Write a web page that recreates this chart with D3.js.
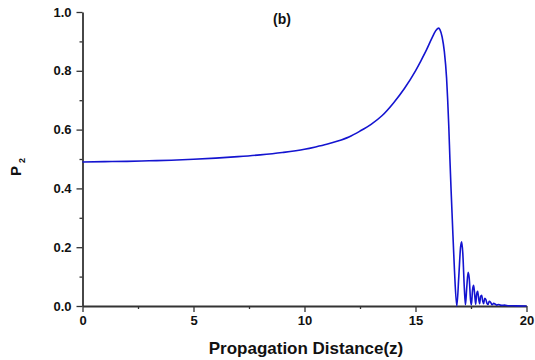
<!DOCTYPE html>
<html>
<head>
<meta charset="utf-8">
<script src="https://cdn.jsdelivr.net/npm/d3@7"></script>
<style>
  html, body { margin: 0; padding: 0; background: #fff; }
  svg { display: block; font-family: "Liberation Sans", Arial, sans-serif; }
</style>
</head>
<body>
<svg id="chart" width="535" height="360"></svg>
<script>
// Propagation distance z
const zValues = [
  0, 1, 2, 3, 4, 5, 6, 7, 8, 9, 10, 10.5, 11, 11.5, 12, 12.5, 13, 13.5, 14, 14.5,
  15, 15.25, 15.5, 15.75, 15.9, 16.0, 16.05, 16.1, 16.2, 16.3, 16.4, 16.45, 16.5, 16.55, 16.6, 16.66, 16.75, 16.86,
  16.95, 17.03, 17.08, 17.13, 17.2, 17.25, 17.31, 17.37, 17.42, 17.48, 17.52,
  17.57, 17.62, 17.67, 17.71, 17.75, 17.8, 17.85, 17.89, 17.93, 17.98, 18.03, 18.07,
  18.12, 18.17, 18.22, 18.27, 18.32, 18.38, 18.45, 18.52, 18.58, 18.66, 18.74, 18.82,
  18.92, 19.0, 19.2, 19.5, 20
];
// Probability P2 at each z
const p2Values = [
  0.490, 0.491, 0.492, 0.494, 0.496, 0.499, 0.503, 0.508, 0.514, 0.522, 0.533, 0.541, 0.550, 0.561, 0.575, 0.595, 0.618, 0.648, 0.690, 0.740,
  0.800, 0.835, 0.872, 0.913, 0.935, 0.944, 0.945, 0.940, 0.915, 0.865, 0.775, 0.700, 0.610, 0.500, 0.400, 0.290, 0.130, 0.0,
  0.10, 0.20, 0.218, 0.18, 0.06, 0.004, 0.065, 0.115, 0.095, 0.02, 0.004,
  0.055, 0.07, 0.035, 0.006, 0.038, 0.05, 0.022, 0.008, 0.032, 0.036, 0.016, 0.008,
  0.026, 0.022, 0.009, 0.005, 0.016, 0.013, 0.004, 0.009, 0.007, 0.003, 0.005, 0.003,
  0.002, 0.003, 0.001, 0.0005, 0
];
const xTicks = [0, 5, 10, 15, 20];
const xMinorTicks = [2.5, 7.5, 12.5, 17.5];
const yTicks = [0.0, 0.2, 0.4, 0.6, 0.8, 1.0];
const yMinorTicks = [0.1, 0.3, 0.5, 0.7, 0.9];

const svg = d3.select("#chart");
const margin = { left: 82.5, right: 8.5, top: 12, bottom: 54 };
const W = 535, H = 360;

const x = d3.scaleLinear().domain([0, 20]).range([margin.left, W - margin.right]);
const y = d3.scaleLinear().domain([0, 1]).range([H - margin.bottom, margin.top]);

const axisColor = "#333";

// minor ticks
const xMinor = d3.axisBottom(x).tickValues(xMinorTicks).tickSize(3).tickFormat("");
const yMinor = d3.axisLeft(y).tickValues(yMinorTicks).tickSize(3).tickFormat("");
svg.append("g").attr("transform", `translate(0,${y(0)})`).call(xMinor)
  .call(g => g.select(".domain").remove())
  .selectAll("line").attr("stroke", axisColor).attr("stroke-width", 1.3);
svg.append("g").attr("transform", `translate(${x(0)},0)`).call(yMinor)
  .call(g => g.select(".domain").remove())
  .selectAll("line").attr("stroke", axisColor).attr("stroke-width", 1.3);

// major axes
const xAxis = d3.axisBottom(x).tickValues(xTicks).tickSize(6).tickSizeOuter(0).tickPadding(4)
  .tickFormat(d3.format("d"));
const yAxis = d3.axisLeft(y).tickValues(yTicks).tickSize(6).tickSizeOuter(0).tickPadding(5)
  .tickFormat(d3.format(".1f"));

const gx = svg.append("g").attr("transform", `translate(0,${y(0)})`).call(xAxis);
const gy = svg.append("g").attr("transform", `translate(${x(0)},0)`).call(yAxis);
[gx, gy].forEach(g => {
  g.select(".domain").attr("stroke", axisColor).attr("stroke-width", 1.8);
  g.selectAll(".tick line").attr("stroke", axisColor).attr("stroke-width", 1.3);
  g.selectAll(".tick text").attr("fill", "#111").attr("font-size", 13)
    .attr("font-weight", "bold").attr("font-family", "Liberation Sans, Arial, sans-serif");
});

// curve
const data = zValues.map((z, i) => ({ z, p: p2Values[i] }));
const line = d3.line().x(d => x(d.z)).y(d => y(d.p)).curve(d3.curveMonotoneX);
svg.append("path").datum(data)
  .attr("d", line)
  .attr("fill", "none")
  .attr("stroke", "#1414d0")
  .attr("stroke-width", 1.6)
  .attr("stroke-linejoin", "round");

// panel label
svg.append("text").attr("x", 282).attr("y", 24).attr("text-anchor", "middle")
  .attr("font-size", 14).attr("font-weight", "bold").attr("fill", "#111").text("(b)");

// axis titles
svg.append("text").attr("x", 306).attr("y", 354).attr("text-anchor", "middle")
  .attr("font-size", 17).attr("font-weight", "bold").attr("fill", "#111")
  .text("Propagation Distance(z)");

const yt = svg.append("text")
  .attr("transform", "translate(21,167) rotate(-90)")
  .attr("text-anchor", "middle")
  .attr("font-size", 15).attr("font-weight", "bold").attr("fill", "#111");
yt.append("tspan").text("P");
yt.append("tspan").attr("font-size", 9).attr("dx", 3).attr("dy", 4).text("2");
</script>
</body>
</html>
